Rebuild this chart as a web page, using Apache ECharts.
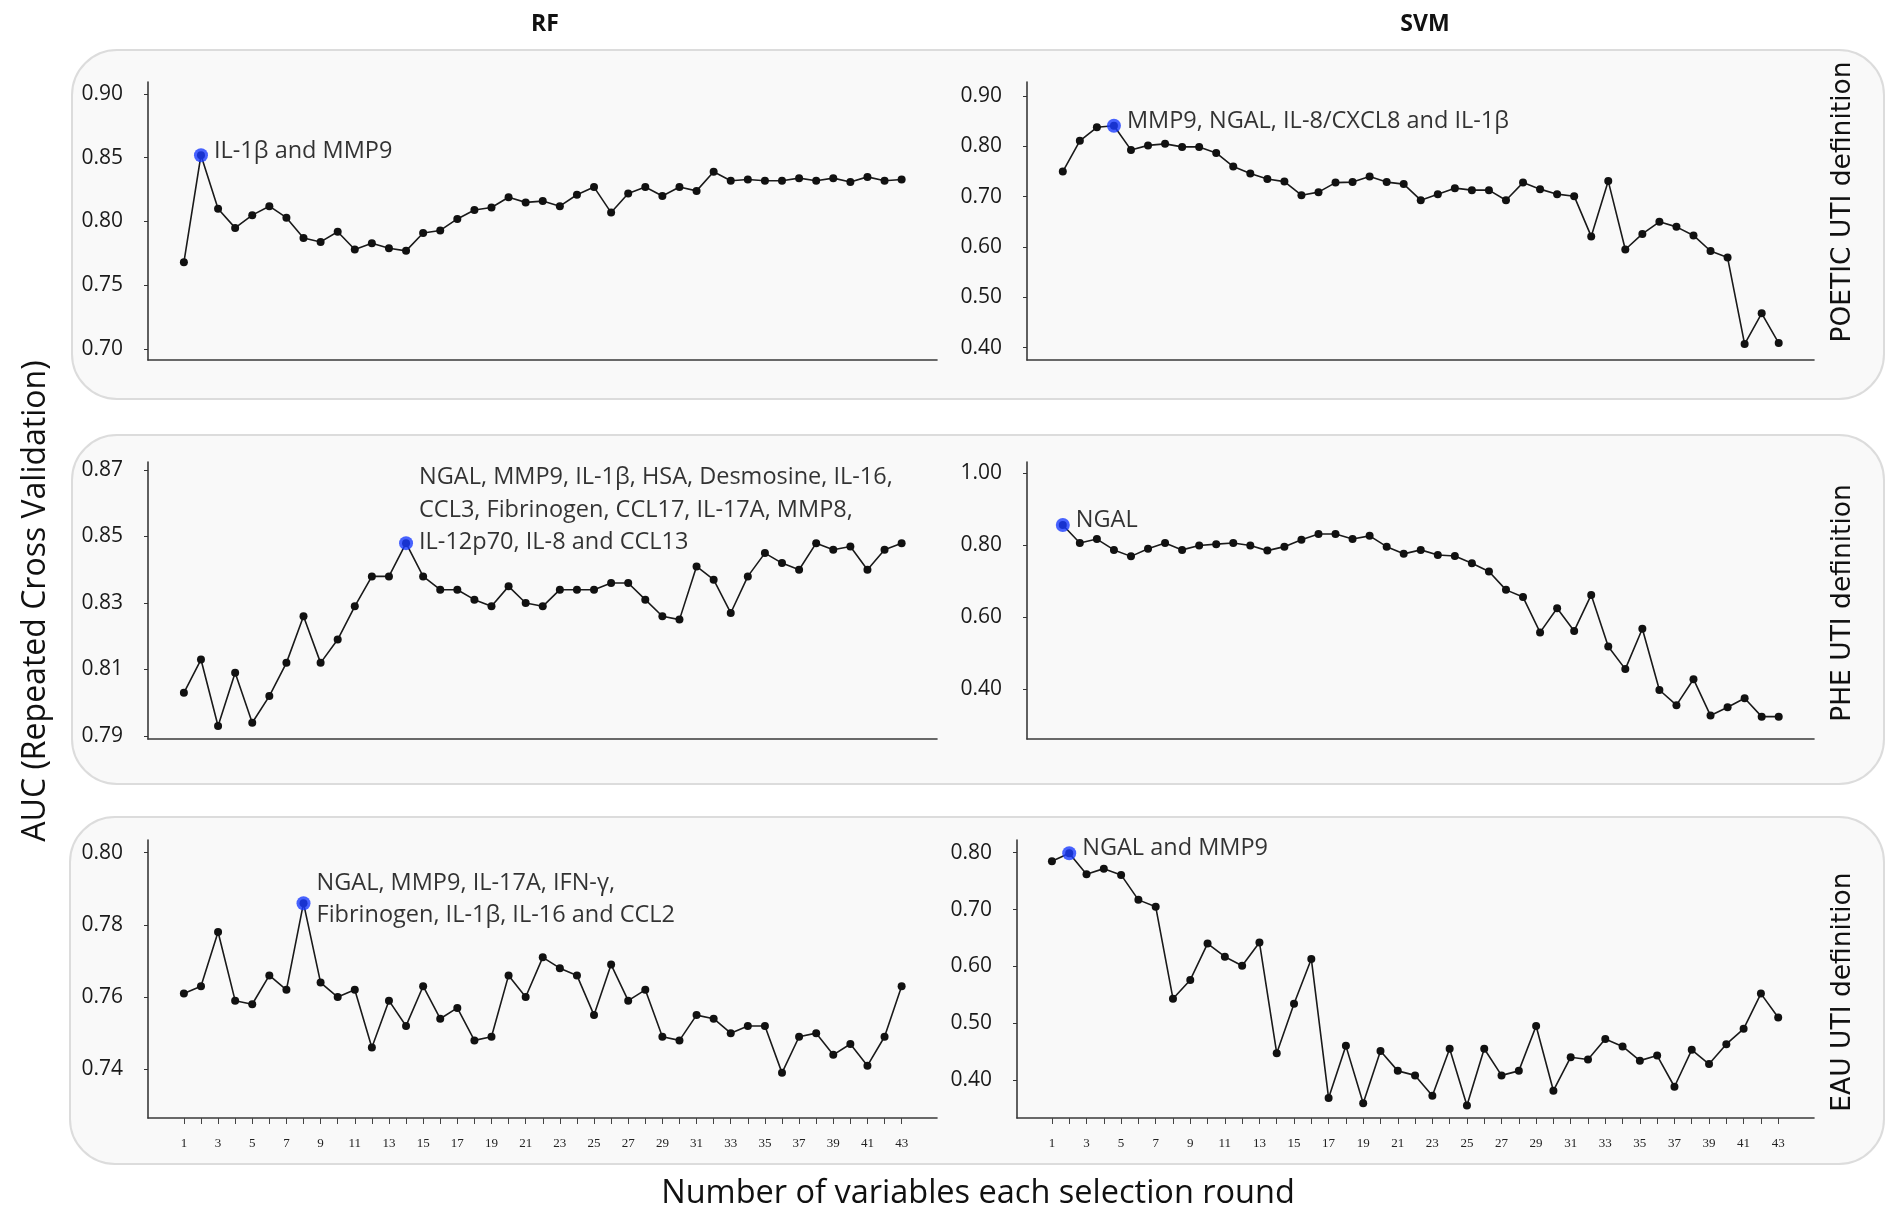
<!DOCTYPE html>
<html>
<head>
<meta charset="utf-8">
<title>AUC per selection round</title>
<script src="https://cdn.jsdelivr.net/npm/echarts@6.0.0/dist/echarts.min.js"></script>
<style>
  html, body { margin: 0; padding: 0; background: #fff; }
  #chart { width: 1886px; height: 1212px; }
</style>
</head>
<body>
<div id="chart"></div>
<script>
const rounds = [1, 2, 3, 4, 5, 6, 7, 8, 9, 10, 11, 12, 13, 14, 15, 16, 17, 18, 19, 20, 21, 22,
  23, 24, 25, 26, 27, 28, 29, 30, 31, 32, 33, 34, 35, 36, 37, 38, 39, 40, 41, 42, 43]
const roundLabels = [1, 3, 5, 7, 9, 11, 13, 15, 17, 19, 21, 23, 25, 27, 29, 31, 33, 35, 37, 39, 41, 43]

const rfPoetic = [0.768, 0.852, 0.810, 0.795, 0.805, 0.812, 0.803, 0.787, 0.784, 0.792, 0.778, 0.783, 0.779, 0.777,
  0.791, 0.793, 0.802, 0.809, 0.811, 0.819, 0.815, 0.816, 0.812, 0.821, 0.827, 0.807, 0.822, 0.827, 0.820,
  0.827, 0.824, 0.839, 0.832, 0.833, 0.832, 0.832, 0.834, 0.832, 0.834, 0.831, 0.835, 0.832, 0.833]
const svmPoetic = [0.750, 0.811, 0.838, 0.841, 0.793, 0.802, 0.805, 0.799, 0.799, 0.787, 0.760, 0.746, 0.735, 0.730,
  0.703, 0.709, 0.728, 0.729, 0.740, 0.729, 0.725, 0.693, 0.705, 0.717, 0.713, 0.713, 0.693, 0.728, 0.715,
  0.705, 0.701, 0.621, 0.731, 0.595, 0.626, 0.650, 0.640, 0.623, 0.592, 0.579, 0.407, 0.468, 0.409]
const rfPhe = [0.803, 0.813, 0.793, 0.809, 0.794, 0.802, 0.812, 0.826, 0.812, 0.819, 0.829, 0.838, 0.838, 0.848,
  0.838, 0.834, 0.834, 0.831, 0.829, 0.835, 0.830, 0.829, 0.834, 0.834, 0.834, 0.836, 0.836, 0.831, 0.826,
  0.825, 0.841, 0.837, 0.827, 0.838, 0.845, 0.842, 0.840, 0.848, 0.846, 0.847, 0.840, 0.846, 0.848]
const svmPhe = [0.856, 0.806, 0.817, 0.787, 0.769, 0.790, 0.806, 0.787, 0.799, 0.803, 0.806, 0.799, 0.785, 0.796,
  0.815, 0.831, 0.831, 0.817, 0.826, 0.796, 0.776, 0.787, 0.773, 0.770, 0.750, 0.727, 0.676, 0.656, 0.558,
  0.625, 0.562, 0.662, 0.519, 0.456, 0.568, 0.398, 0.356, 0.428, 0.327, 0.350, 0.375, 0.324, 0.324]
const rfEau = [0.761, 0.763, 0.778, 0.759, 0.758, 0.766, 0.762, 0.786, 0.764, 0.760, 0.762, 0.746, 0.759, 0.752,
  0.763, 0.754, 0.757, 0.748, 0.749, 0.766, 0.760, 0.771, 0.768, 0.766, 0.755, 0.769, 0.759, 0.762, 0.749,
  0.748, 0.755, 0.754, 0.750, 0.752, 0.752, 0.739, 0.749, 0.750, 0.744, 0.747, 0.741, 0.749, 0.763]
const svmEau = [0.785, 0.799, 0.762, 0.772, 0.761, 0.717, 0.705, 0.543, 0.576, 0.640, 0.617, 0.601, 0.642, 0.447,
  0.534, 0.613, 0.368, 0.460, 0.359, 0.451, 0.416, 0.408, 0.372, 0.455, 0.355, 0.455, 0.408, 0.416, 0.495,
  0.381, 0.440, 0.436, 0.472, 0.459, 0.434, 0.443, 0.388, 0.453, 0.428, 0.463, 0.490, 0.552, 0.510]

const ticksRfPoetic = [0.70, 0.75, 0.80, 0.85, 0.90]
const ticksSvmPoetic = [0.40, 0.50, 0.60, 0.70, 0.80, 0.90]
const ticksRfPhe = [0.79, 0.81, 0.83, 0.85, 0.87]
const ticksSvmPhe = [0.40, 0.60, 0.80, 1.00]
const ticksRfEau = [0.74, 0.76, 0.78, 0.80]
const ticksSvmEau = [0.40, 0.50, 0.60, 0.70, 0.80]

const notes = [
  'IL-1β and MMP9',
  'MMP9, NGAL, IL-8/CXCL8 and IL-1β',
  'NGAL, MMP9, IL-1β, HSA, Desmosine, IL-16,\nCCL3, Fibrinogen, CCL17, IL-17A, MMP8,\nIL-12p70, IL-8 and CCL13',
  'NGAL',
  'NGAL, MMP9, IL-17A, IFN-γ,\nFibrinogen, IL-1β, IL-16 and CCL2',
  'NGAL and MMP9'
]
const definitions = ['POETIC UTI definition', 'PHE UTI definition', 'EAU UTI definition']

// layout of each small plot, row by row
const panels = [
  { values: rfPoetic, best: 1, ticks: ticksRfPoetic, min: 0.6914, max: 0.9094, left: 148, top: 82, width: 789, height: 278, shift: -4 },
  { values: svmPoetic, best: 3, ticks: ticksSvmPoetic, min: 0.3753, max: 0.928, left: 1027, top: 82, width: 787, height: 278, shift: -4 },
  { values: rfPhe, best: 13, ticks: ticksRfPhe, min: 0.7891, max: 0.8724, left: 148, top: 462, width: 789, height: 277, shift: -33 },
  { values: svmPhe, best: 0, ticks: ticksSvmPhe, min: 0.262, max: 1.031, left: 1027, top: 462, width: 787, height: 277, shift: -5 },
  { values: rfEau, best: 7, ticks: ticksRfEau, min: 0.7265, max: 0.8035, left: 148, top: 840, width: 789, height: 278, shift: -4, bottom: true },
  { values: svmEau, best: 1, ticks: ticksSvmEau, min: 0.333, max: 0.8224, left: 1017, top: 840, width: 797, height: 278, shift: -5, bottom: true }
]

const grid = [], xAxis = [], yAxis = [], series = []
panels.forEach((p, i) => {
  grid.push({ left: p.left, top: p.top, width: p.width, height: p.height })
  xAxis.push({
    type: 'value', gridIndex: i, min: i === 5 ? -1.02 : -1.1, max: 45.07,
    splitLine: { show: false },
    axisLine: { onZero: false, lineStyle: { color: '#3a3a3a', width: 1.6 } },
    axisTick: { show: !!p.bottom, customValues: rounds, length: 6, lineStyle: { color: '#444' } },
    axisLabel: {
      show: !!p.bottom, customValues: roundLabels, margin: 19,
      fontFamily: 'Liberation Serif', fontSize: 13, color: '#222'
    }
  })
  yAxis.push({
    type: 'value', gridIndex: i, min: p.min, max: p.max,
    splitLine: { show: false },
    axisLine: { show: true, onZero: false, lineStyle: { color: '#3a3a3a', width: 1.6 } },
    axisTick: { show: true, customValues: p.ticks, length: 4, lineStyle: { color: '#333' } },
    axisLabel: {
      customValues: p.ticks, margin: 25, formatter: v => v.toFixed(2),
      fontFamily: 'Open Sans', fontSize: 21, color: '#1a1a1a'
    }
  })
  series.push({
    type: 'line', xAxisIndex: i, yAxisIndex: i,
    data: rounds.map((r, k) => [r, p.values[k]]),
    symbol: 'circle', symbolSize: 8,
    lineStyle: { color: '#1a1a1a', width: 1.6 },
    itemStyle: { color: '#111' },
    silent: true, animation: false
  })
  series.push({
    type: 'scatter', xAxisIndex: i, yAxisIndex: i, z: 5,
    data: [[rounds[p.best], p.values[p.best]]],
    symbolSize: 14,
    itemStyle: { color: '#1a3cff' },
    label: {
      show: true, position: 'right', distance: 6, offset: [0, p.shift],
      formatter: notes[i], fontFamily: 'Open Sans', fontSize: 23.5, lineHeight: 32.5, color: '#000'
    },
    silent: true, animation: false
  })
})

const rowBoxes = [
  { x: 72, y: 50, width: 1812, height: 349 },
  { x: 72, y: 435, width: 1812, height: 349 },
  { x: 70, y: 817, width: 1814, height: 347 }
]
const graphic = rowBoxes.map(b => ({
  type: 'rect', z: -10, shape: { x: b.x, y: b.y, width: b.width, height: b.height, r: 45 },
  style: { fill: '#f9f9f9', stroke: '#dcdcdc', lineWidth: 2 }
}))
const textEl = (text, x, y, rotation, size, family, weight) => ({
  type: 'text', x, y, rotation, z: 10,
  style: { text, fill: '#111', fontSize: size, fontFamily: family, fontWeight: weight || 'normal', align: 'center', verticalAlign: 'middle' }
})
graphic.push(textEl('RF', 545, 24, 0, 23, 'Open Sans', 'bold'))
graphic.push(textEl('SVM', 1425, 24, 0, 23, 'Open Sans', 'bold'))
graphic.push(textEl('AUC (Repeated Cross Validation)', 36, 601, Math.PI / 2, 32, 'Open Sans'))
graphic.push(textEl('Number of variables each selection round', 978, 1194, 0, 32.5, 'Open Sans'))
graphic.push(textEl(definitions[0], 1843, 202, Math.PI / 2, 26.5, 'DejaVu Sans'))
graphic.push(textEl(definitions[1], 1843, 603, Math.PI / 2, 26.5, 'DejaVu Sans'))
graphic.push(textEl(definitions[2], 1843, 992, Math.PI / 2, 26.5, 'DejaVu Sans'))

const chart = echarts.init(document.getElementById('chart'))
chart.setOption({
  animation: false,
  backgroundColor: '#fff',
  grid, xAxis, yAxis, series, graphic
})
</script>
</body>
</html>
